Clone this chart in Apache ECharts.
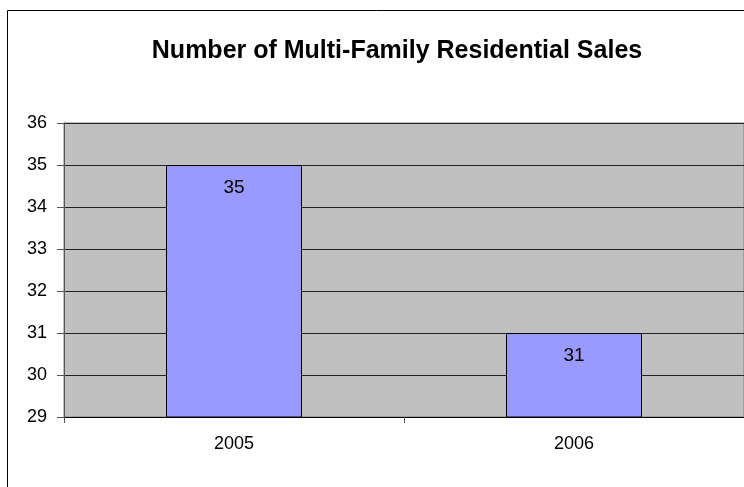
<!DOCTYPE html>
<html>
<head>
<meta charset="utf-8">
<script src="https://cdn.jsdelivr.net/npm/echarts@6/dist/echarts.min.js"></script>
<style>
  html, body { margin: 0; padding: 0; background: #fff; }
  #chart { width: 744px; height: 487px; }
</style>
</head>
<body>
<div id="chart"></div>
<script>
// Yearly counts of multi-family residential sales
const years = ['2005', '2006'];
const sales = [35, 31];
const yTicks = { min: 29, max: 36, step: 1 };

const chart = echarts.init(document.getElementById('chart'), null, { renderer: 'canvas' });

chart.setOption({
  animation: false,
  backgroundColor: '#ffffff',
  title: {
    text: 'Number of Multi-Family Residential Sales',
    left: 392,
    textAlign: 'center',
    top: 34,
    textStyle: {
      fontFamily: 'Liberation Sans, Arial, sans-serif',
      fontWeight: 'bold',
      fontSize: 25,
      color: '#000'
    }
  },
  graphic: [{
    type: 'rect',
    shape: { x: 7.5, y: 10.5, width: 800, height: 600 },
    style: { fill: 'none', stroke: '#000', lineWidth: 1 },
    silent: true,
    z: -10
  }],
  grid: {
    left: 64,
    right: 0,
    top: 123,
    bottom: 70,
    show: true,
    backgroundColor: '#c0c0c0',
    borderColor: '#808080',
    borderWidth: 1,
    outerBoundsMode: 'none'
  },
  xAxis: {
    type: 'category',
    data: years,
    axisLine: { show: true, lineStyle: { color: '#000', width: 1 } },
    axisTick: { show: true, length: 6, lineStyle: { color: '#555' } },
    axisLabel: {
      fontFamily: 'Liberation Sans, Arial, sans-serif',
      fontSize: 18,
      color: '#000',
      margin: 18
    }
  },
  yAxis: {
    type: 'value',
    min: yTicks.min,
    max: yTicks.max,
    interval: yTicks.step,
    axisLine: { show: true, lineStyle: { color: '#555', width: 1 } },
    axisTick: { show: true, inside: false, length: 7, lineStyle: { color: '#555' } },
    splitLine: { show: true, lineStyle: { color: '#222', width: 1 } },
    axisLabel: {
      fontFamily: 'Liberation Sans, Arial, sans-serif',
      fontSize: 18,
      color: '#000',
      margin: 17
    }
  },
  series: [{
    type: 'bar',
    data: sales,
    barWidth: '40%',
    itemStyle: { color: '#9999ff', borderColor: '#000', borderWidth: 1 },
    label: {
      show: true,
      position: 'insideTop',
      distance: 13,
      fontFamily: 'Liberation Sans, Arial, sans-serif',
      fontSize: 19,
      color: '#000'
    }
  }]
});
</script>
</body>
</html>
